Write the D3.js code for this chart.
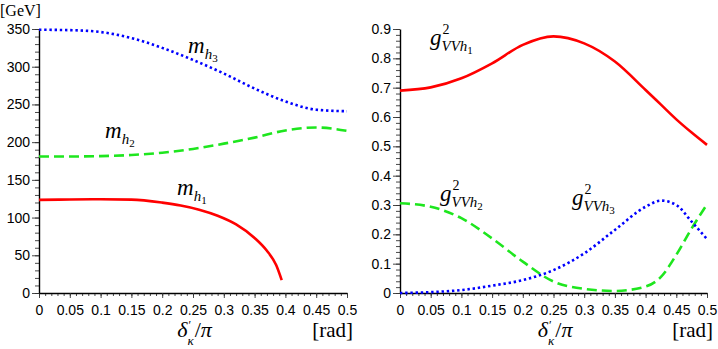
<!DOCTYPE html>
<html>
<head>
<meta charset="utf-8">
<script src="https://cdn.jsdelivr.net/npm/d3@7"></script>
<style>
  body { margin: 0; background: #fff; }
  svg { display: block; }
</style>
</head>
<body>
<div id="chart"></div>
<script>
/* two panel mass / coupling plot */

// ---- data ----
// left panel: Higgs masses [GeV] vs delta'_kappa / pi
var xMass = [0, 0.05, 0.1, 0.15, 0.2, 0.25, 0.3, 0.35, 0.4, 0.45, 0.5];
var mh3 = [349, 348.5, 346, 338, 325, 309, 291, 271, 254, 243, 241];
var mh2 = [181, 181, 181.5, 183, 186, 191, 198, 206, 215.5, 219.5, 215];
var xMh1 = [0, 0.05, 0.1, 0.15, 0.2, 0.23, 0.26, 0.29, 0.32, 0.35, 0.37, 0.385, 0.394];
var mh1 = [123.5, 124, 124.3, 123.8, 119.8, 116, 110.5, 102.5, 91, 73, 56, 37, 17];

// right panel: squared couplings g^2_VVh
var xCoup = [0, 0.05, 0.1, 0.15, 0.2, 0.25, 0.3, 0.35, 0.4, 0.425, 0.45, 0.475, 0.5];
var gh1 = [0.690, 0.701, 0.732, 0.783, 0.846, 0.875, 0.851, 0.789, 0.692, 0.642, 0.592, 0.547, 0.505];
var gh2 = [0.306, 0.294, 0.255, 0.186, 0.107, 0.039, 0.014, 0.007, 0.022, 0.055, 0.13, 0.22, 0.302];
var gh3 = [0.0, 0.003, 0.01, 0.025, 0.044, 0.078, 0.135, 0.215, 0.294, 0.315, 0.30, 0.243, 0.184];

var xTicks = [0, 0.05, 0.1, 0.15, 0.2, 0.25, 0.3, 0.35, 0.4, 0.45, 0.5];
var massTicks = [0, 50, 100, 150, 200, 250, 300, 350];
var coupTicks = [0, 0.1, 0.2, 0.3, 0.4, 0.5, 0.6, 0.7, 0.8, 0.9];

var RED = '#ff0000', GREEN = '#1ee61e', BLUE = '#0000ff';
var SERIF = '"Liberation Serif", "DejaVu Serif", serif';
var SANS = '"Liberation Sans", Arial, sans-serif';

var svg = d3.select('#chart').append('svg')
	.attr('width', 718)
	.attr('height', 349);

function drawPanel(p){
	// scales
	var x = d3.scaleLinear().domain([0, 0.5]).range([p.left, p.right]);
	var y = d3.scaleLinear().domain(p.yDomain).range([293, 29]);

	var g = svg.append('g');

	// minor ticks
	g.append('g')
		.attr('transform', 'translate(0,293)')
		.call(d3.axisBottom(x).tickValues(d3.range(0, 0.5001, 0.01)).tickSize(3).tickFormat(''))
		.call(a => a.select('.domain').remove());
	g.append('g')
		.attr('transform', `translate(${p.left},0)`)
		.call(d3.axisLeft(y).tickValues(p.yMinor).tickSize(4).tickFormat(''))
		.call(a => a.select('.domain').remove());

	// major ticks + labels
	var xa = g.append('g')
		.attr('transform', 'translate(0,293)')
		.call(d3.axisBottom(x).tickValues(xTicks).tickSize(5).tickPadding(7)
			.tickSizeOuter(0).tickFormat(d3.format('.2~f')));
	var ya = g.append('g')
		.attr('transform', `translate(${p.left},0)`)
		.call(d3.axisLeft(y).tickValues(p.yTicks).tickSize(7).tickPadding(2)
			.tickSizeOuter(0).tickFormat(p.yFormat));

	[xa, ya].forEach(a => {
		a.attr('font-family', SANS).attr('font-size', 14);
		a.selectAll('text').attr('fill', '#000');
		a.select('.domain').attr('stroke-width', 1.4);
	});
	g.selectAll('.tick line').attr('stroke', '#333').attr('stroke-width', 0.9);

	// curves
	var line = d3.line()
		.x(d => x(d[0]))
		.y(d => y(d[1]))
		.curve(d3.curveMonotoneX);

	p.series.forEach(s => {
		g.append('path')
			.datum(d3.zip(s.xs, s.ys))
			.attr('d', line)
			.attr('fill', 'none')
			.attr('stroke', s.color)
			.attr('stroke-width', 2.6)
			.attr('stroke-dasharray', s.dash);
	});

	// axis title  delta'_kappa / pi
	var tx = x(0.2) + 15, ty = 337;
	var d = g.append('text')
		.attr('x', tx).attr('y', ty)
		.attr('font-family', SERIF).attr('font-style', 'italic').attr('font-size', 22)
		.text('δ');
	var dw = d.node().getComputedTextLength();
	g.append('text')
		.attr('x', tx + dw + 1).attr('y', ty - 8)
		.attr('font-family', SERIF).attr('font-size', 12)
		.text('′');
	var k = g.append('text')
		.attr('x', tx + dw).attr('y', ty + 8)
		.attr('font-family', SERIF).attr('font-style', 'italic').attr('font-size', 13)
		.text('κ');
	var kw = k.node().getComputedTextLength();
	var r = g.append('text')
		.attr('x', tx + dw + kw + 1).attr('y', ty)
		.attr('font-family', SERIF).attr('font-size', 22);
	r.append('tspan').text('/');
	r.append('tspan').attr('font-style', 'italic').text('π');

	g.append('text')
		.attr('x', p.right + 6)
		.attr('y', ty)
		.attr('text-anchor', 'end')
		.attr('font-family', SERIF)
		.attr('font-size', 21)
		.text('[rad]');
}

// math label: base symbol with optional superscript and subscript (+ sub-subscript)
function mathLabel(px, py, base, sup, sub, subsub){
	var t = svg.append('text')
		.attr('x', px).attr('y', py)
		.attr('font-family', SERIF)
		.attr('font-style', 'italic')
		.attr('font-size', 23)
		.text(base);
	var w = t.node().getComputedTextLength();
	if (sup) {
		svg.append('text')
			.attr('x', px + w + 1).attr('y', py - 11)
			.attr('font-family', SERIF)
			.attr('font-size', 14)
			.text(sup);
	}
	var s = svg.append('text')
		.attr('x', px + w).attr('y', py + 6)
		.attr('font-family', SERIF)
		.attr('font-style', 'italic')
		.attr('font-size', 15);
	s.append('tspan').text(sub);
	s.append('tspan').attr('font-style', 'normal').attr('font-size', 11).attr('dy', 3).text(subsub);
}

drawPanel({
	left: 39, right: 347,
	yDomain: [0, 350],
	yTicks: massTicks,
	yMinor: d3.range(0, 351, 10),
	yFormat: d3.format('d'),
	series: [
		{xs: xMass, ys: mh3, color: BLUE, dash: '2.4,2.8'},
		{xs: xMass, ys: mh2, color: GREEN, dash: '10,5'},
		{xs: xMh1, ys: mh1, color: RED, dash: null}
	]
});

drawPanel({
	left: 400, right: 707,
	yDomain: [0, 0.9],
	yTicks: coupTicks,
	yMinor: d3.range(0, 0.9001, 0.02),
	yFormat: d3.format('.1~f'),
	series: [
		{xs: xCoup, ys: gh1, color: RED, dash: null},
		{xs: xCoup, ys: gh2, color: GREEN, dash: '10,5'},
		{xs: xCoup, ys: gh3, color: BLUE, dash: '2.4,2.8'}
	]
});

// unit label
svg.append('text')
	.attr('x', 0).attr('y', 16)
	.attr('font-family', SERIF)
	.attr('font-size', 16)
	.text('[GeV]');

// curve labels
mathLabel(188, 53, 'm', null, 'h', '3');
mathLabel(105, 138, 'm', null, 'h', '2');
mathLabel(177, 195, 'm', null, 'h', '1');
mathLabel(430, 45, 'g', '2', 'VVh', '1');
mathLabel(440, 201, 'g', '2', 'VVh', '2');
mathLabel(572, 205, 'g', '2', 'VVh', '3');
</script>
</body>
</html>
